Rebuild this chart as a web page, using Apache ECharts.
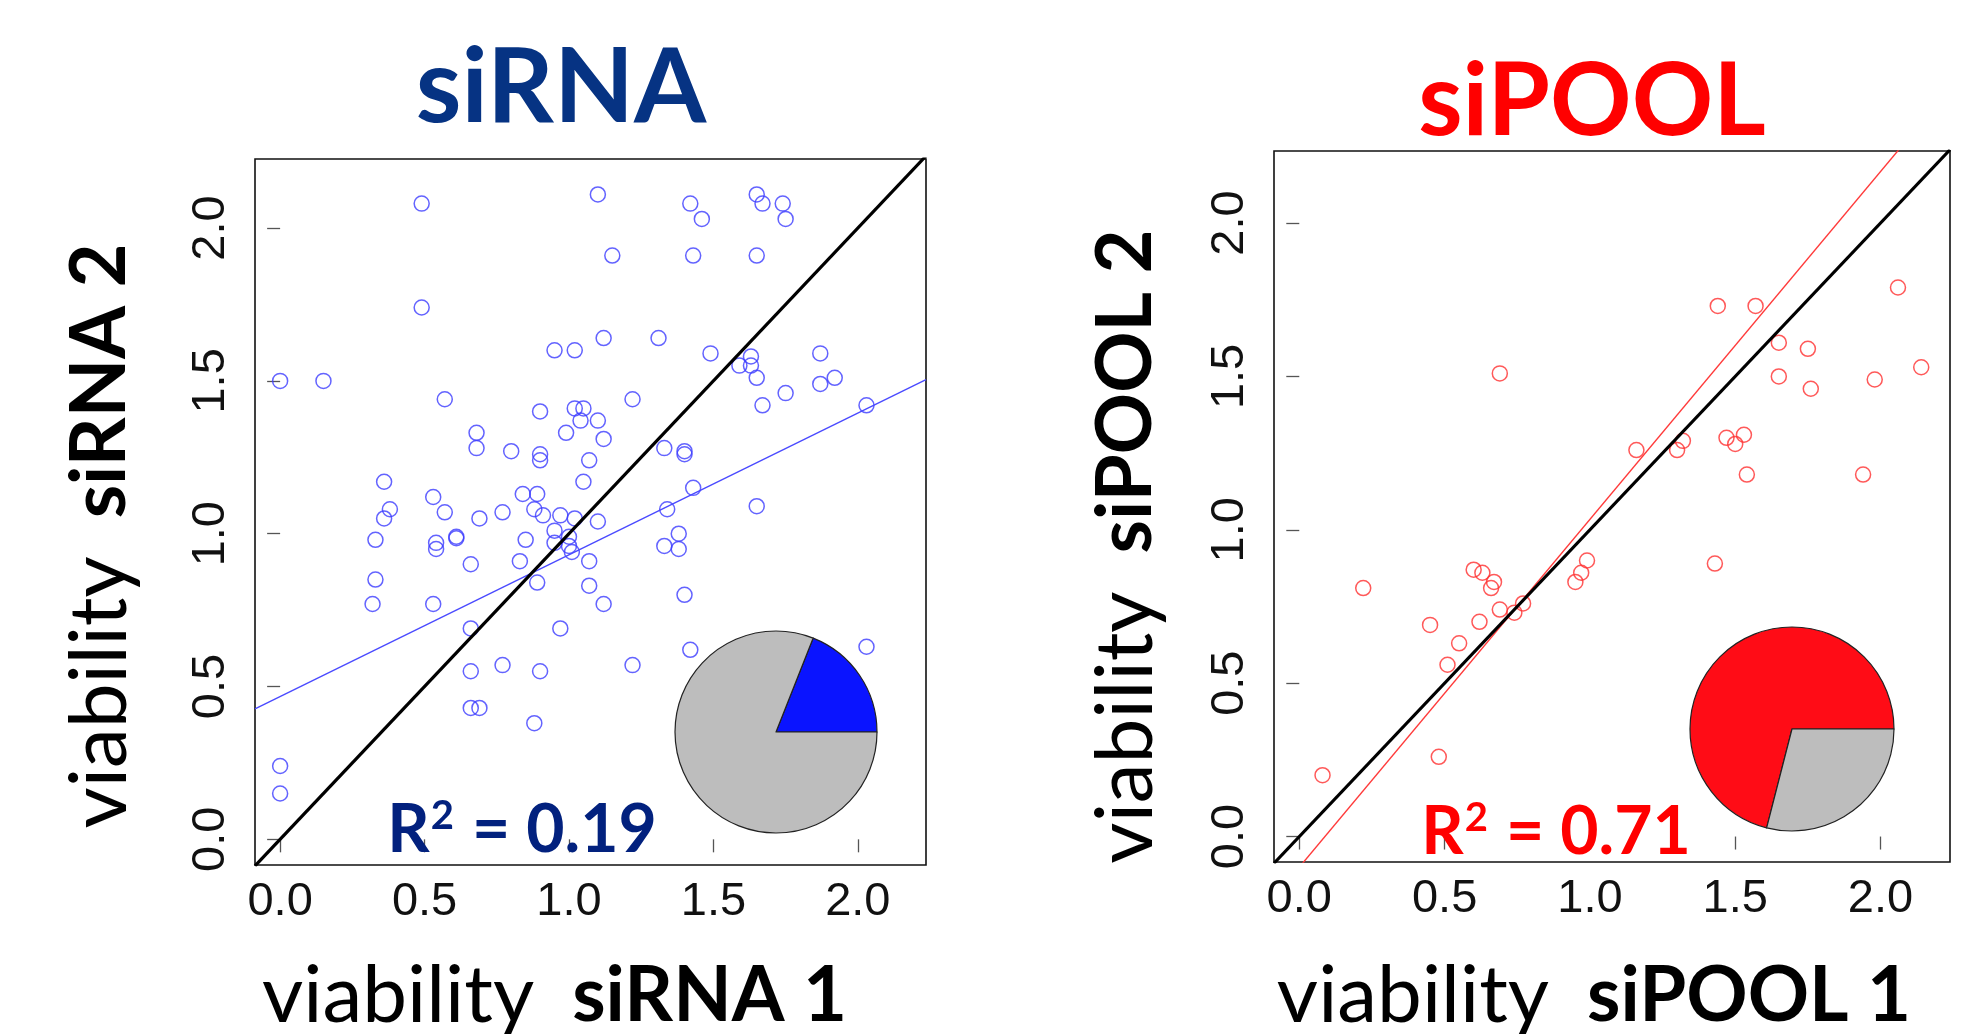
<!DOCTYPE html>
<html>
<head>
<meta charset="utf-8">
<script src="https://cdn.jsdelivr.net/npm/echarts@6/dist/echarts.min.js"></script>
<style>
html, body { margin: 0; padding: 0; background: #fff; }
#chart { width: 1975px; height: 1034px; }
</style>
</head>
<body>
<div id="chart"></div>
<script>
// values
var tickValues = [0, 0.5, 1, 1.5, 2];

var sirnaX = [0.49, 1.10, 1.42, 1.46, 1.65, 1.67, 1.74, 1.75, 1.15, 1.43, 1.65, 0.49, 1.12, 1.31, 0.95, 1.02,
    1.49, 1.63, 1.59, 1.63, 1.65, 1.87, 1.87, 1.92, 0.00, 0.15, 1.75, 1.67, 2.03, 0.57, 1.22, 0.90,
    1.02, 1.05, 1.04, 1.10, 0.99, 1.12, 0.68, 0.68, 0.80, 0.90, 0.90, 1.07, 1.33, 1.40, 1.40, 0.36,
    1.05, 1.43, 0.53, 0.84, 0.89, 0.38, 0.36, 0.57, 0.69, 0.77, 0.88, 0.91, 0.97, 1.02, 1.10, 1.34,
    1.65, 0.33, 0.54, 0.54, 0.61, 0.61, 0.85, 0.95, 0.95, 1.00, 1.00, 1.01, 0.83, 1.07, 0.66, 1.33,
    1.38, 1.38, 0.33, 0.32, 0.53, 0.89, 1.07, 1.12, 1.40, 0.66, 0.97, 1.42, 2.03, 1.22, 0.66, 0.77,
    0.90, 0.66, 0.69, 0.88, 0.00, 0.00];
var sirnaY = [2.08, 2.11, 2.08, 2.03, 2.11, 2.08, 2.08, 2.03, 1.91, 1.91, 1.91, 1.74, 1.64, 1.64, 1.60, 1.60,
    1.59, 1.58, 1.55, 1.55, 1.51, 1.59, 1.49, 1.51, 1.50, 1.50, 1.46, 1.42, 1.42, 1.44, 1.44, 1.40,
    1.41, 1.41, 1.37, 1.37, 1.33, 1.31, 1.33, 1.28, 1.27, 1.26, 1.24, 1.24, 1.28, 1.27, 1.26, 1.17,
    1.17, 1.15, 1.12, 1.13, 1.13, 1.08, 1.05, 1.07, 1.05, 1.07, 1.08, 1.06, 1.06, 1.05, 1.04, 1.08,
    1.09, 0.98, 0.97, 0.95, 0.99, 0.985, 0.98, 1.01, 0.97, 0.99, 0.96, 0.94, 0.91, 0.91, 0.90, 0.96,
    1.00, 0.95, 0.85, 0.77, 0.77, 0.84, 0.83, 0.77, 0.80, 0.69, 0.69, 0.62, 0.63, 0.57, 0.55, 0.57,
    0.55, 0.43, 0.43, 0.38, 0.24, 0.15];

var sipoolX = [2.06, 1.44, 1.57, 1.65, 1.75, 2.14, 0.69, 1.65, 1.98, 1.76, 1.16, 1.32, 1.30, 1.47, 1.50, 1.53,
    1.54, 1.94, 1.43, 0.99, 0.97, 0.95, 0.60, 0.63, 0.67, 0.66, 0.22, 0.45, 0.62, 0.69, 0.74, 0.77,
    0.55, 0.51, 0.48, 0.08];
var sipoolY = [1.79, 1.73, 1.73, 1.61, 1.59, 1.53, 1.51, 1.50, 1.49, 1.46, 1.26, 1.29, 1.26, 1.30, 1.28, 1.31,
    1.18, 1.18, 0.89, 0.90, 0.86, 0.83, 0.87, 0.86, 0.83, 0.81, 0.81, 0.69, 0.70, 0.74, 0.73, 0.76,
    0.63, 0.56, 0.26, 0.20];

// linear fits drawn in each panel
var sirnaFit = [0.467, 0.464];   // intercept, slope
var sipoolFit = [-0.100, 1.134];
var sirnaR2 = 0.19;
var sipoolR2 = 0.71;

// axis limits (R style, 4% padding)
var sirnaXLim = [-0.087, 2.236], sirnaYLim = [-0.084, 2.226];
var sipoolXLim = [-0.087, 2.239], sipoolYLim = [-0.083, 2.235];

function pairs(xs, ys) {
    return xs.map(function (x, i) { return [x, ys[i]]; });
}
function fitLine(fit, lim) {
    return [[lim[0], fit[0] + fit[1] * lim[0]], [lim[1], fit[0] + fit[1] * lim[1]]];
}

var tickFont = { fontFamily: 'Liberation Sans', fontSize: 47, color: '#111' };
var nameRich = {
    n: { fontFamily: 'Lato', fontSize: 80, color: '#000', padding: [0, 38, 0, 0] },
    b: { fontFamily: 'Lato', fontWeight: 'bold', fontSize: 76, color: '#000' }
};

function makeAxis(isY, gridIndex, lim, name, pad, gap) {
    return {
        type: 'value',
        gridIndex: gridIndex,
        min: lim[0],
        max: lim[1],
        axisLine: { show: false },
        splitLine: { show: false },
        axisTick: { show: true, length: 13, customValues: tickValues, lineStyle: { color: '#555', width: 1.3 } },
        axisLabel: Object.assign({
            customValues: tickValues,
            rotate: isY ? 90 : 0,
            margin: isY ? 20 : 14,
            formatter: function (v) { return v.toFixed(1); }
        }, tickFont),
        name: name,
        nameLocation: 'middle',
        nameRotate: isY ? 90 : 0,
        nameGap: gap,
        nameTextStyle: { rich: nameRich, padding: pad }
    };
}

function r2Text(val, color, x, y) {
    var base = { fontFamily: 'Lato', fontWeight: 'bold', fill: color };
    return {
        type: 'text', x: x, y: y, z: 10,
        style: {
            text: '{r|R}{s|2}{r| = ' + val.toFixed(2) + '}',
            align: 'center', verticalAlign: 'middle',
            rich: {
                r: Object.assign({ fontSize: 66, lineHeight: 70 }, base),
                s: Object.assign({ fontSize: 40, lineHeight: 46, verticalAlign: 'top', padding: [0, 2, 0, 1] }, base)
            }
        }
    };
}

var dom = document.getElementById('chart');
var myChart = echarts.init(dom);
var option;

option = {
    backgroundColor: '#fff',
    animation: false,
    grid: [
        { left: 255, top: 159, width: 671, height: 706, outerBoundsMode: 'none', show: true, borderColor: '#111', borderWidth: 1.6, backgroundColor: 'transparent' },
        { left: 1274, top: 151, width: 676, height: 711, outerBoundsMode: 'none', show: true, borderColor: '#111', borderWidth: 1.6, backgroundColor: 'transparent' }
    ],
    xAxis: [
        makeAxis(false, 0, sirnaXLim, '{n|viability}{b|siRNA 1}', [0, 72, 0, 0], 91),
        makeAxis(false, 1, sipoolXLim, '{n|viability}{b|siPOOL 1}', [0, 36, 0, 0], 94)
    ],
    yAxis: [
        makeAxis(true, 0, sirnaYLim, '{n|viability}{b|siRNA 2}', [0, 48, 0, 0], 115),
        makeAxis(true, 1, sipoolYLim, '{n|viability}{b|siPOOL 2}', [0, 80, 0, 0], 108)
    ],
    graphic: [
        { type: 'text', x: 561, y: 88, style: { text: 'siRNA', fontFamily: 'Lato', fontWeight: 'bold', fontSize: 104, fill: '#063383', align: 'center', verticalAlign: 'middle' } },
        { type: 'text', x: 1592, y: 102, style: { text: 'siPOOL', fontFamily: 'Lato', fontWeight: 'bold', fontSize: 101, fill: '#ff0000', align: 'center', verticalAlign: 'middle' } },
        r2Text(sirnaR2, '#02217e', 522, 831),
        r2Text(sipoolR2, '#ff0000', 1556, 833)
    ],
    series: [
        {
            type: 'scatter', xAxisIndex: 0, yAxisIndex: 0,
            data: pairs(sirnaX, sirnaY),
            symbol: 'circle', symbolSize: 15,
            itemStyle: { color: 'transparent', borderColor: '#3c3cff', borderWidth: 1.5 }
        },
        {
            type: 'line', xAxisIndex: 0, yAxisIndex: 0,
            data: fitLine(sirnaFit, sirnaXLim), showSymbol: false,
            lineStyle: { color: '#4a4aff', width: 1.4 }
        },
        {
            type: 'line', xAxisIndex: 0, yAxisIndex: 0,
            data: fitLine([0, 1], sirnaXLim), showSymbol: false,
            lineStyle: { color: '#000', width: 3.2 }
        },
        {
            type: 'scatter', xAxisIndex: 1, yAxisIndex: 1,
            data: pairs(sipoolX, sipoolY),
            symbol: 'circle', symbolSize: 15,
            itemStyle: { color: 'transparent', borderColor: '#ff3030', borderWidth: 1.5 }
        },
        {
            type: 'line', xAxisIndex: 1, yAxisIndex: 1,
            data: fitLine(sipoolFit, sipoolXLim), showSymbol: false,
            lineStyle: { color: '#ff3a3a', width: 1.4 }
        },
        {
            type: 'line', xAxisIndex: 1, yAxisIndex: 1,
            data: fitLine([0, 1], sipoolXLim), showSymbol: false,
            lineStyle: { color: '#000', width: 3.2 }
        },
        {
            type: 'pie', center: [776, 732], radius: 101,
            startAngle: 0, clockwise: false, label: { show: false }, labelLine: { show: false },
            emphasis: { disabled: true },
            itemStyle: { borderColor: '#222', borderWidth: 1.2 },
            data: [
                { value: sirnaR2, itemStyle: { color: '#0a14ff' } },
                { value: 1 - sirnaR2, itemStyle: { color: '#bdbdbd' } }
            ]
        },
        {
            type: 'pie', center: [1792, 729], radius: 102,
            startAngle: 0, clockwise: false, label: { show: false }, labelLine: { show: false },
            emphasis: { disabled: true },
            itemStyle: { borderColor: '#222', borderWidth: 1.2 },
            data: [
                { value: sipoolR2, itemStyle: { color: '#ff0c16' } },
                { value: 1 - sipoolR2, itemStyle: { color: '#bdbdbd' } }
            ]
        }
    ]
};

if (option && typeof option === 'object') {
    myChart.setOption(option);
}

window.addEventListener('resize', function () {
    myChart.resize();
});
</script>
</body>
</html>
